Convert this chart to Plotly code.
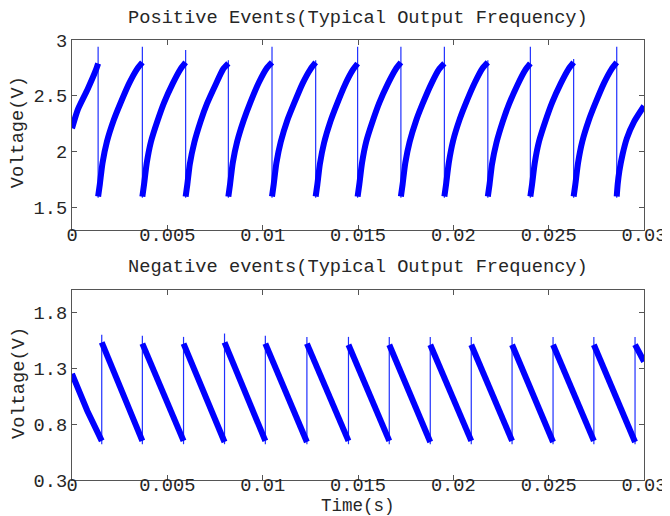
import plotly.graph_objects as go
from plotly.subplots import make_subplots

# ---------------- Top panel: Positive events ----------------
# charging ramps, one list per cycle, separated at each reset
pos_t = [
    [0, 0.00031, 0.00082, 0.00125, 0.00137],
    [0.00137, 0.00146, 0.00160, 0.00183, 0.00218, 0.00253, 0.00299, 0.00341, 0.00369],
    [0.00369, 0.00378, 0.00392, 0.00414, 0.00449, 0.00483, 0.00528, 0.00569, 0.00596],
    [0.00596, 0.00605, 0.00618, 0.00641, 0.00674, 0.00708, 0.00753, 0.00793, 0.00820],
    [0.00820, 0.00829, 0.00843, 0.00866, 0.00900, 0.00935, 0.00980, 0.01022, 0.01049],
    [0.01049, 0.01058, 0.01072, 0.01095, 0.01129, 0.01164, 0.01209, 0.01251, 0.01278],
    [0.01278, 0.01287, 0.01300, 0.01322, 0.01355, 0.01388, 0.01432, 0.01472, 0.01498],
    [0.01498, 0.01507, 0.01521, 0.01543, 0.01578, 0.01612, 0.01657, 0.01698, 0.01725],
    [0.01725, 0.01734, 0.01748, 0.01771, 0.01805, 0.01839, 0.01885, 0.01926, 0.01953],
    [0.01953, 0.01962, 0.01976, 0.01999, 0.02033, 0.02067, 0.02113, 0.02154, 0.02181],
    [0.02181, 0.02190, 0.02203, 0.02226, 0.02259, 0.02293, 0.02337, 0.02377, 0.02404],
    [0.02404, 0.02413, 0.02427, 0.02449, 0.02484, 0.02518, 0.02563, 0.02604, 0.02631],
    [0.02631, 0.02640, 0.02654, 0.02676, 0.02710, 0.02744, 0.02789, 0.02830, 0.02857],
    [0.02857, 0.02862, 0.02871, 0.02888, 0.02910, 0.02948, 0.03],
]
pos_v = [
    [2.21, 2.38, 2.56, 2.73, 2.79],
    [1.60, 1.71, 1.90, 2.09, 2.28, 2.43, 2.61, 2.74, 2.80],
    [1.60, 1.71, 1.90, 2.09, 2.28, 2.44, 2.61, 2.74, 2.80],
    [1.60, 1.71, 1.89, 2.08, 2.27, 2.43, 2.60, 2.74, 2.79],
    [1.60, 1.71, 1.90, 2.09, 2.28, 2.44, 2.62, 2.75, 2.80],
    [1.60, 1.71, 1.90, 2.09, 2.28, 2.43, 2.61, 2.74, 2.80],
    [1.60, 1.71, 1.89, 2.08, 2.27, 2.42, 2.60, 2.73, 2.79],
    [1.60, 1.71, 1.90, 2.09, 2.28, 2.44, 2.61, 2.74, 2.80],
    [1.60, 1.71, 1.90, 2.09, 2.28, 2.43, 2.61, 2.74, 2.79],
    [1.60, 1.71, 1.90, 2.10, 2.29, 2.44, 2.62, 2.75, 2.80],
    [1.60, 1.71, 1.89, 2.08, 2.27, 2.43, 2.60, 2.73, 2.79],
    [1.60, 1.71, 1.90, 2.09, 2.28, 2.44, 2.61, 2.74, 2.80],
    [1.60, 1.71, 1.90, 2.09, 2.28, 2.43, 2.61, 2.74, 2.80],
    [1.60, 1.71, 1.83, 1.98, 2.12, 2.27, 2.41],
]
pos_reset_t = [0.00137, 0.00369, 0.00596, 0.00820, 0.01049, 0.01278, 0.01498,
               0.01725, 0.01953, 0.02181, 0.02404, 0.02631, 0.02857]
pos_spike_top = [2.94, 2.94, 2.91, 2.82, 2.94, 2.82, 2.94, 2.94, 2.94, 2.82, 2.94, 2.83, 2.94]
pos_spike_bottom = 1.59

# ---------------- Bottom panel: Negative events ----------------
neg_t = [
    [0, 0.00080, 0.00156],
    [0.00156, 0.00220, 0.00284, 0.00369],
    [0.00369, 0.00434, 0.00499, 0.00585],
    [0.00585, 0.00650, 0.00714, 0.00800],
    [0.00800, 0.00864, 0.00928, 0.01014],
    [0.01014, 0.01079, 0.01145, 0.01232],
    [0.01232, 0.01297, 0.01363, 0.01450],
    [0.01450, 0.01514, 0.01578, 0.01664],
    [0.01664, 0.01729, 0.01793, 0.01879],
    [0.01879, 0.01944, 0.02008, 0.02094],
    [0.02094, 0.02158, 0.02222, 0.02308],
    [0.02308, 0.02373, 0.02437, 0.02523],
    [0.02523, 0.02587, 0.02651, 0.02737],
    [0.02737, 0.02802, 0.02867, 0.02953],
    [0.02953, 0.03],
]
neg_v = [
    [1.25, 0.92, 0.65],
    [1.53, 1.26, 1.00, 0.65],
    [1.52, 1.26, 1.00, 0.65],
    [1.52, 1.25, 0.99, 0.64],
    [1.53, 1.26, 1.00, 0.65],
    [1.52, 1.26, 1.00, 0.64],
    [1.52, 1.26, 1.00, 0.65],
    [1.51, 1.25, 0.99, 0.65],
    [1.51, 1.25, 0.99, 0.64],
    [1.51, 1.25, 0.99, 0.65],
    [1.51, 1.25, 0.99, 0.65],
    [1.51, 1.25, 0.99, 0.64],
    [1.51, 1.25, 0.99, 0.65],
    [1.51, 1.25, 0.99, 0.64],
    [1.51, 1.36],
]
neg_reset_t = [0.00156, 0.00369, 0.00585, 0.00800, 0.01014, 0.01232, 0.01450,
               0.01664, 0.01879, 0.02094, 0.02308, 0.02523, 0.02737, 0.02953]
neg_spike_top = [1.60, 1.59, 1.58, 1.61, 1.59, 1.58, 1.58, 1.58, 1.58, 1.58, 1.58, 1.58, 1.58, 1.58]
neg_spike_bottom = 0.62

x_tickvals = [0, 0.005, 0.01, 0.015, 0.02, 0.025, 0.03]
x_ticktext = ["0", "0.005", "0.01", "0.015", "0.02", "0.025", "0.03"]
pos_tickvals = [1.5, 2, 2.5, 3]
pos_ticktext = ["1.5", "2", "2.5", "3"]
neg_tickvals = [0.3, 0.8, 1.3, 1.8]
neg_ticktext = ["0.3", "0.8", "1.3", "1.8"]

top_title = "Positive Events(Typical Output Frequency)"
bottom_title = "Negative events(Typical Output Frequency)"
x_title = "Time(s)"
y_title = "Voltage(V)"

FONT = "Liberation Mono, Courier New, monospace"
FS = 18.7
TXT = "#262626"
AX = "#555555"
BLUE = "#0000ff"


def join(tl, vl):
    xs, ys = [], []
    for t, v in zip(tl, vl):
        xs += t + [None]
        ys += v + [None]
    return xs, ys


def spikes(ts, tops, bottom):
    xs, ys = [], []
    for t, top in zip(ts, tops):
        xs += [t, t, None]
        ys += [bottom, top, None]
    return xs, ys


fig = make_subplots(rows=2, cols=1, vertical_spacing=0.136)

sx, sy = spikes(pos_reset_t, pos_spike_top, pos_spike_bottom)
fig.add_trace(go.Scatter(x=sx, y=sy, mode="lines", line=dict(color="#2030ff", width=1.2),
                         hoverinfo="skip", showlegend=False), row=1, col=1)
px_, py_ = join(pos_t, pos_v)
fig.add_trace(go.Scatter(x=px_, y=py_, mode="lines",
                         line=dict(color=BLUE, width=6, shape="spline", smoothing=0.6),
                         showlegend=False), row=1, col=1)

sx, sy = spikes(neg_reset_t, neg_spike_top, neg_spike_bottom)
fig.add_trace(go.Scatter(x=sx, y=sy, mode="lines", line=dict(color="#2030ff", width=1.2),
                         hoverinfo="skip", showlegend=False), row=2, col=1)
nx_, ny_ = join(neg_t, neg_v)
fig.add_trace(go.Scatter(x=nx_, y=ny_, mode="lines", line=dict(color=BLUE, width=6),
                         showlegend=False), row=2, col=1)

axis_common = dict(showline=True, linecolor=AX, linewidth=1.2, mirror="ticks",
                   ticks="inside", ticklen=5, tickcolor=AX, tickwidth=1.2,
                   showgrid=False, zeroline=False,
                   tickfont=dict(family=FONT, size=FS, color=TXT))

fig.update_xaxes(range=[0, 0.03], tickvals=x_tickvals, ticktext=x_ticktext,
                 ticklabelstandoff=-13, **axis_common)
fig.update_yaxes(range=[1.3, 3.0], tickvals=pos_tickvals, ticktext=pos_ticktext,
                 row=1, col=1, **axis_common)
fig.update_yaxes(range=[0.3, 2.0], tickvals=neg_tickvals, ticktext=neg_ticktext,
                 row=2, col=1, **axis_common)
fig.update_layout(
    xaxis=dict(domain=[0, 1]), xaxis2=dict(domain=[0, 1]),
    yaxis=dict(domain=[0.568, 1.0]), yaxis2=dict(domain=[0.0, 0.432]),
)

ann_font = dict(family=FONT, size=FS, color=TXT)
annotations = [
    dict(text=top_title, x=0.5, y=1.051, xref="paper", yref="paper",
         xanchor="center", yanchor="middle", showarrow=False, font=ann_font),
    dict(text=bottom_title, x=0.5, y=0.483, xref="paper", yref="paper",
         xanchor="center", yanchor="middle", showarrow=False, font=ann_font),
    dict(text=x_title, x=0.5, y=-0.059, xref="paper", yref="paper",
         xanchor="center", yanchor="middle", showarrow=False,
         font=dict(family=FONT, size=17.5, color=TXT)),
    dict(text=y_title, x=-0.093, y=0.79, xref="paper", yref="paper", textangle=-90,
         xanchor="center", yanchor="middle", showarrow=False, font=ann_font),
    dict(text=y_title, x=-0.093, y=0.22, xref="paper", yref="paper", textangle=-90,
         xanchor="center", yanchor="middle", showarrow=False, font=ann_font),
]

fig.update_layout(
    width=670, height=516,
    margin=dict(l=64, r=23, t=32, b=44),
    paper_bgcolor="white", plot_bgcolor="white",
    annotations=annotations,
    showlegend=False,
)

fig.write_html("out.html")
